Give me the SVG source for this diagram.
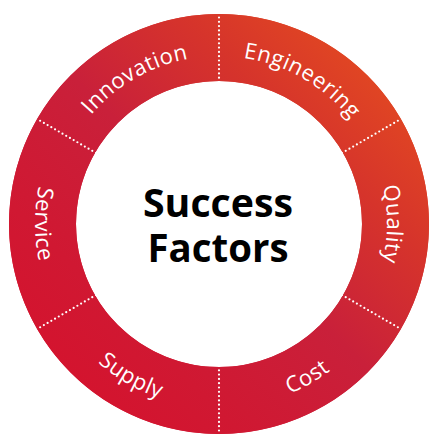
<svg xmlns="http://www.w3.org/2000/svg" width="429" height="434" viewBox="0 0 429 434">
  <defs>
    <linearGradient id="ringGrad" gradientUnits="userSpaceOnUse" x1="429" y1="0" x2="0" y2="434">
      <stop offset="0.1" stop-color="#E44C20"/>
      <stop offset="0.3" stop-color="#D6342B"/>
      <stop offset="0.5" stop-color="#C9203A"/>
      <stop offset="0.72" stop-color="#D01832"/>
      <stop offset="0.9" stop-color="#D5122D"/>
    </linearGradient>
    <path id="pInnovation" d="M73.51,140 A168,168 0 0 1 219,56"/>
    <path id="pEngineering" d="M219,56 A168,168 0 0 1 364.49,140"/>
    <path id="pQuality" d="M364.49,140 A168,168 0 0 1 364.49,308"/>
    <path id="pCost" d="M219,408 A184,184 0 0 0 378.35,316"/>
    <path id="pSupply" d="M59.65,316 A184,184 0 0 0 219,408"/>
    <path id="pService" d="M59.65,132 A184,184 0 0 0 59.65,316"/>
  </defs>
  <style>
    .seg { fill: url(#ringGrad); }
    .label { font-family: "Open Sans", "Noto Sans", sans-serif; font-size: 22px; fill: #FFFFFF; letter-spacing: 0.5px; }
    .title { font-family: "Open Sans", "Noto Sans", sans-serif; font-size: 40px; font-weight: 700; fill: #000000; text-anchor: middle; }
    .div { stroke: #FFFFFF; stroke-width: 2.2; stroke-linecap: round; stroke-dasharray: 0 4.3; fill: none; }
  </style>

  <g id="ring">
    <circle cx="219" cy="224" r="176.5" fill="none" stroke="url(#ringGrad)" stroke-width="67"/>
  </g>

  <g id="innovation">
    <path class="seg" d="M37.13,119 A210,210 0 0 1 219,14 L219,81 A143,143 0 0 0 95.16,152.5 Z"/>
    <text class="label"><textPath href="#pInnovation" startOffset="50%" text-anchor="middle">Innovation</textPath></text>
  </g>
  <g id="engineering">
    <path class="seg" d="M219,14 A210,210 0 0 1 400.87,119 L342.84,152.5 A143,143 0 0 0 219,81 Z"/>
    <text class="label"><textPath href="#pEngineering" startOffset="50%" text-anchor="middle">Engineering</textPath></text>
  </g>
  <g id="quality">
    <path class="seg" d="M400.87,119 A210,210 0 0 1 400.87,329 L342.84,295.5 A143,143 0 0 0 342.84,152.5 Z"/>
    <text class="label"><textPath href="#pQuality" startOffset="50%" text-anchor="middle">Quality</textPath></text>
  </g>
  <g id="cost">
    <path class="seg" d="M400.87,329 A210,210 0 0 1 219,434 L219,367 A143,143 0 0 0 342.84,295.5 Z"/>
    <text class="label"><textPath href="#pCost" startOffset="50%" text-anchor="middle">Cost</textPath></text>
  </g>
  <g id="supply">
    <path class="seg" d="M219,434 A210,210 0 0 1 37.13,329 L95.16,295.5 A143,143 0 0 0 219,367 Z"/>
    <text class="label"><textPath href="#pSupply" startOffset="50%" text-anchor="middle">Supply</textPath></text>
  </g>
  <g id="service">
    <path class="seg" d="M37.13,329 A210,210 0 0 1 37.13,119 L95.16,152.5 A143,143 0 0 0 95.16,295.5 Z"/>
    <text class="label"><textPath href="#pService" startOffset="50%" text-anchor="middle">Service</textPath></text>
  </g>

  <g id="dividers">
    <line class="div" x1="219" y1="82" x2="219" y2="15"/>
    <line class="div" x1="342" y1="153" x2="400" y2="119.5"/>
    <line class="div" x1="342" y1="295" x2="400" y2="328.5"/>
    <line class="div" x1="219" y1="366" x2="219" y2="433"/>
    <line class="div" x1="96" y1="295" x2="38" y2="328.5"/>
    <line class="div" x1="96" y1="153" x2="38" y2="119.5"/>
  </g>

  <g id="center">
    <text class="title" x="218" y="217" textLength="150" lengthAdjust="spacingAndGlyphs">Success</text>
    <text class="title" x="218" y="262" textLength="141" lengthAdjust="spacingAndGlyphs">Factors</text>
  </g>
</svg>
